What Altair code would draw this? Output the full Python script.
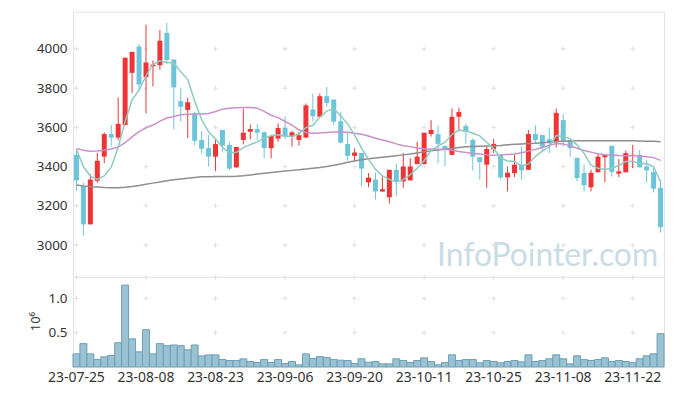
import altair as alt
import pandas as pd

dates = ["23-07-25","23-07-26","23-07-27","23-07-28","23-07-31","23-08-01","23-08-02","23-08-03","23-08-04","23-08-07",
         "23-08-08","23-08-09","23-08-10","23-08-11","23-08-14","23-08-16","23-08-17","23-08-18","23-08-21","23-08-22",
         "23-08-23","23-08-24","23-08-25","23-08-28","23-08-29","23-08-30","23-08-31","23-09-01","23-09-04","23-09-05",
         "23-09-06","23-09-07","23-09-08","23-09-11","23-09-12","23-09-13","23-09-14","23-09-15","23-09-18","23-09-19",
         "23-09-20","23-09-21","23-09-22","23-09-25","23-09-26","23-09-27","23-10-04","23-10-05","23-10-06","23-10-10",
         "23-10-11","23-10-12","23-10-13","23-10-16","23-10-17","23-10-18","23-10-19","23-10-20","23-10-23","23-10-24",
         "23-10-25","23-10-26","23-10-27","23-10-30","23-10-31","23-11-01","23-11-02","23-11-03","23-11-06","23-11-07",
         "23-11-08","23-11-09","23-11-10","23-11-13","23-11-14","23-11-15","23-11-16","23-11-17","23-11-20","23-11-21",
         "23-11-22","23-11-23","23-11-24","23-11-27","23-11-28"]

opens = [3460,3300,3106,3328,3451,3566,3548,3612,3878,4012,
         3856,3912,3917,4082,3946,3734,3689,3671,3536,3495,
         3451,3587,3511,3396,3536,3578,3592,3575,3494,3543,
         3597,3553,3536,3548,3691,3654,3759,3742,3631,3516,
         3455,3470,3320,3334,3273,3244,3384,3325,3330,3413,
         3413,3566,3566,3506,3460,3654,3607,3536,3448,3410,
         3489,3460,3345,3367,3410,3384,3566,3561,3540,3527,
         3637,3536,3445,3367,3295,3371,3448,3506,3364,3371,
         3455,3460,3401,3373,3292]

highs = [3490,3318,3362,3470,3574,3612,3753,3956,3986,4025,
         4123,3941,4096,4133,3946,3803,3750,3680,3580,3561,
         3538,3587,3529,3501,3696,3615,3617,3580,3558,3620,
         3655,3582,3578,3722,3772,3772,3806,3742,3680,3578,
         3494,3470,3367,3371,3350,3384,3415,3469,3443,3527,
         3573,3637,3610,3506,3696,3701,3617,3545,3448,3502,
         3540,3460,3401,3460,3502,3587,3612,3561,3600,3696,
         3668,3536,3445,3410,3384,3465,3460,3506,3438,3482,
         3511,3485,3435,3393,3334]

lows = [3275,3048,3106,3318,3418,3502,3534,3612,3775,3793,
        3671,3809,3894,3924,3590,3630,3546,3509,3466,3400,
        3378,3477,3382,3396,3514,3540,3536,3443,3443,3527,
        3540,3502,3507,3548,3632,3654,3705,3612,3522,3431,
        3426,3300,3296,3232,3273,3212,3249,3292,3330,3413,
        3413,3553,3418,3401,3460,3583,3516,3381,3334,3292,
        3469,3334,3274,3347,3334,3384,3516,3477,3469,3499,
        3502,3451,3325,3274,3274,3371,3320,3350,3347,3371,
        3393,3396,3320,3269,3064]

closes = [3330,3106,3334,3430,3566,3548,3618,3955,3985,3819,
          3931,3920,4042,3944,3804,3705,3728,3532,3491,3451,
          3515,3507,3390,3500,3573,3592,3573,3494,3556,3597,
          3553,3575,3560,3712,3657,3759,3725,3629,3522,3455,
          3472,3390,3344,3274,3285,3384,3325,3401,3401,3451,
          3573,3587,3516,3489,3654,3678,3578,3451,3423,3490,
          3516,3345,3369,3410,3381,3566,3536,3502,3519,3674,
          3527,3494,3342,3305,3369,3451,3460,3373,3376,3469,
          3460,3396,3381,3288,3092]

ma5 = [3488,3400,3352,3335,3353,3397,3499,3630,3740,3790,
       3862,3922,3939,3931,3928,3883,3845,3735,3640,3578,
       3541,3499,3471,3473,3497,3512,3526,3546,3558,3562,
       3555,3555,3568,3599,3611,3653,3683,3696,3658,3618,
       3561,3494,3437,3387,3353,3335,3322,3334,3359,3392,
       3430,3483,3506,3523,3564,3585,3583,3570,3557,3524,
       3492,3445,3429,3426,3404,3414,3452,3479,3501,3559,
       3552,3543,3511,3468,3407,3392,3385,3392,3406,3426,
       3428,3415,3416,3399,3323]

ma20 = [3492,3483,3479,3480,3484,3490,3500,3522,3552,3578,
        3598,3612,3632,3648,3656,3664,3667,3668,3668,3671,
        3681,3693,3698,3700,3702,3702,3698,3682,3662,3650,
        3630,3612,3588,3574,3570,3572,3574,3576,3576,3575,
        3570,3565,3556,3545,3536,3527,3516,3507,3502,3495,
        3490,3490,3489,3489,3483,3477,3472,3467,3464,3460,
        3458,3460,3462,3465,3471,3479,3488,3498,3509,3518,
        3516,3506,3494,3482,3474,3466,3461,3459,3457,3456,
        3455,3454,3451,3446,3432]

ma60 = [3306,3301,3298,3296,3294,3293,3293,3295,3299,3304,
        3310,3316,3322,3328,3333,3337,3341,3345,3348,3349,
        3350,3350,3350,3351,3354,3358,3362,3366,3370,3374,
        3378,3381,3384,3388,3392,3396,3401,3407,3414,3422,
        3429,3435,3440,3444,3448,3452,3456,3460,3464,3470,
        3476,3481,3485,3489,3493,3497,3501,3503,3504,3505,
        3506,3508,3511,3514,3516,3518,3519,3522,3525,3527,
        3529,3531,3532,3532,3532,3532,3532,3532,3532,3532,
        3532,3531,3530,3529,3527]

volumes = [190000,340000,190000,107000,147000,166000,353000,1196000,410000,220000,
           544000,190000,340000,310000,320000,310000,250000,320000,160000,175000,
           175000,107000,93000,93000,117000,78000,63000,107000,63000,107000,
           49000,78000,30000,190000,122000,151000,137000,107000,97000,93000,
           49000,118000,68000,78000,44000,44000,118000,93000,63000,93000,
           132000,78000,29000,63000,176000,93000,107000,107000,59000,93000,
           78000,59000,78000,93000,73000,176000,78000,93000,118000,176000,
           118000,44000,162000,107000,93000,107000,132000,78000,93000,78000,
           63000,118000,162000,191000,485000]

x_labels = ["23-07-25","23-08-08","23-08-23","23-09-06","23-09-20",
            "23-10-11","23-10-25","23-11-08","23-11-22"]
price_ticks = [3000, 3200, 3400, 3600, 3800, 4000]
vol_ticks = [500000, 1000000]
vol_cross_levels = [500000, 1000000, 1310000]
watermark = "InfoPointer.com"
vol_title = "10⁶"

RED = "#ee3434"
BLUE = "#6cc4da"
W, H, PRICE_H = 594, 357, 267

df = pd.DataFrame(dict(date=dates, open=opens, high=highs, low=lows, close=closes,
                       ma5=ma5, ma20=ma20, ma60=ma60, volume=volumes))

x_scale = alt.Scale(domain=dates, paddingInner=0, paddingOuter=0)
price_scale = alt.Scale(domain=[2836, 4190], range=[PRICE_H, 0], nice=False, zero=False)
vol_scale = alt.Scale(domain=[0, 1310000], range=[H, PRICE_H], nice=False, zero=False)

x_axis = alt.Axis(values=x_labels, labelAngle=0, ticks=False, domain=False, grid=False,
                  labelPadding=4, labelFontSize=14, title=None, orient="bottom")
X = alt.X("date:N", scale=x_scale, axis=x_axis)
updown = alt.condition("datum.close >= datum.open", alt.value(RED), alt.value(BLUE))

base = alt.Chart(df)

wick = base.mark_rule(strokeWidth=1).encode(
    x=X,
    y=alt.Y("low:Q", scale=price_scale,
            axis=alt.Axis(values=price_ticks, orient="left", grid=False, ticks=False,
                          domain=False, labelPadding=6, format="d", title=None)),
    y2="high:Q",
    color=updown,
)
body = base.mark_bar(size=5).encode(
    x=X,
    y=alt.Y("open:Q", scale=price_scale),
    y2="close:Q",
    color=updown,
)
line5 = base.mark_line(strokeWidth=1.5, color="#8ccbc1").encode(
    x=X, y=alt.Y("ma5:Q", scale=price_scale))
line20 = base.mark_line(strokeWidth=1.5, color="#cc8fc8").encode(
    x=X, y=alt.Y("ma20:Q", scale=price_scale))
line60 = base.mark_line(strokeWidth=1.5, color="#8e8e8e").encode(
    x=X, y=alt.Y("ma60:Q", scale=price_scale))

cross_shape = "M-1,0H1M0,-1V1"
price_cross_df = pd.DataFrame([(d, v) for d in x_labels for v in price_ticks], columns=["date", "value"])
price_cross = alt.Chart(price_cross_df).mark_point(
    shape=cross_shape, filled=False, size=25, strokeWidth=1, color="#e0e0e0", opacity=1
).encode(x=X, y=alt.Y("value:Q", scale=price_scale))

price_layer = alt.layer(price_cross, wick, body, line60, line20, line5)

vol_bars = base.mark_bar(color="#9bc2d2", stroke="#6c9fb7", strokeWidth=1, opacity=1).encode(
    x=X,
    y=alt.Y("volume:Q", scale=vol_scale,
            axis=alt.Axis(values=vol_ticks, orient="left", grid=False, ticks=False, domain=False,
                          labelPadding=6, labelExpr="format(datum.value / 1000000, '.1f')",
                          title=vol_title, titleX=-34, titleY=311, titleAlign="center",
                          titleBaseline="alphabetic")),
)
vol_cross_df = pd.DataFrame([(d, v) for d in x_labels for v in vol_cross_levels], columns=["date", "value"])
vol_cross = alt.Chart(vol_cross_df).mark_point(
    shape=cross_shape, filled=False, size=25, strokeWidth=1, color="#e0e0e0", opacity=1
).encode(x=X, y=alt.Y("value:Q", scale=vol_scale))

vol_layer = alt.layer(vol_cross, vol_bars)

sep = alt.Chart(pd.DataFrame({"a": [0]})).mark_rule(color="#e2e2e2", strokeWidth=1).encode(
    x=alt.value(0), x2=alt.value(W), y=alt.value(PRICE_H))

wm = alt.Chart(pd.DataFrame({"t": [watermark]})).mark_text(
    font="Lato", fontSize=32, color="#c9dce6", align="center", baseline="alphabetic"
).encode(x=alt.value(477), y=alt.value(256), text="t:N")

chart = alt.layer(wm, price_layer, vol_layer, sep).resolve_scale(y="independent").properties(
    width=W, height=H,
    autosize=alt.AutoSizeParams(type="none"),
    padding={"left": 65.3, "top": 2.7, "right": 5, "bottom": 25},
).configure_view(stroke="#e2e2e2").configure_axis(
    labelFont="Noto Sans", labelFontSize=13.5, labelColor="#333333",
    titleFont="Noto Sans", titleFontSize=13, titleFontWeight="normal", titleColor="#333333",
)

chart.save("out.html", embed_options={"renderer": "svg", "actions": False})
